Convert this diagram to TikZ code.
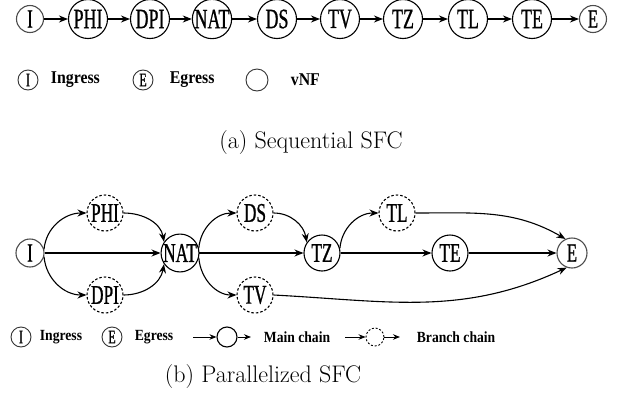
\documentclass[tikz,border=0pt]{standalone}
\usepackage{fontspec}
\newfontfamily\nodefont[FakeStretch=0.64,FakeBold=0.8]{Liberation Serif}
\newfontfamily\legendfont[FakeStretch=0.88]{Liberation Serif}
\usetikzlibrary{arrows.meta}

\tikzset{
	every picture/.style={line width=1.1pt},
	vnf/.style={draw, circle, inner sep=0pt, minimum size=39pt, font=\nodefont\fontsize{28}{28}\selectfont},
	vnfs/.style={vnf, minimum size=36pt, font=\nodefont\fontsize{27}{27}\selectfont},
	branch/.style={vnfs, dash pattern=on 2.5pt off 2pt},
	port/.style={draw=black!70, circle, inner sep=0pt, minimum size=27pt, font=\nodefont\fontsize{26}{26}\selectfont},
	keyport/.style={draw=black!80, circle, line width=0.9pt, inner sep=0pt, minimum size=20pt, font=\nodefont\fontsize{19}{19}\selectfont},
	keytext/.style={anchor=west, font=\legendfont\bfseries\fontsize{18}{18}\selectfont},
	keytexts/.style={anchor=west, font=\legendfont\bfseries\fontsize{15.5}{15.5}\selectfont},
	caption/.style={font=\fontsize{24}{24}\selectfont},
	link/.style={-{Stealth[length=9pt,width=7pt]}},
	keylink/.style={line width=0.9pt, -{Stealth[length=7pt,width=5.5pt]}}
}

\begin{document}
\begin{tikzpicture}[x=1pt,y=1pt,yscale=-1,xscale=1]
	\useasboundingbox (0,0) rectangle (625,397);

	%Sequential chain
	\node[port] (sI) at (30,19) {I};
	\node[vnf] (sPHI) at (88,19) {PHI};
	\node[vnf] (sDPI) at (150,19) {DPI};
	\node[vnf] (sNAT) at (212,19) {NAT};
	\node[vnf] (sDS) at (277,19) {DS};
	\node[vnf] (sTV) at (340,19) {TV};
	\node[vnf] (sTZ) at (403,19) {TZ};
	\node[vnf] (sTL) at (468,19) {TL};
	\node[vnf] (sTE) at (532,19) {TE};
	\node[port] (sE) at (593,19) {E};
	\foreach \a/\b in {sI/sPHI,sPHI/sDPI,sDPI/sNAT,sNAT/sDS,sDS/sTV,sTV/sTZ,sTZ/sTL,sTL/sTE,sTE/sE}
		\draw[link] (\a) -- (\b);

	%Legend (a)
	\node[keyport] (kaI) at (28,80) {I};
	\node[keytext] (kaIt) at (47,80) {Ingress};
	\node[keyport] (kaE) at (143,80) {E};
	\node[keytext] (kaEt) at (166,80) {Egress};
	\node[keyport, minimum size=22pt] (kaV) at (257,80) {};
	\node[keytext] (kaVt) at (287,80) {vNF};

	% Text Node
	\node[caption] (capa) at (311,143) {(a) Sequential SFC};

	%Parallelized chain (angles flipped because of yscale=-1)
	\node[port, minimum size=28pt] (pI) at (30,253) {I};
	\node[branch] (pPHI) at (105,213) {PHI};
	\node[branch] (pDPI) at (105,295) {DPI};
	\node[vnfs, minimum size=37pt] (pNAT) at (180,253) {NAT};
	\node[branch] (pDS) at (255,213) {DS};
	\node[branch] (pTV) at (255,295) {TV};
	\node[vnfs] (pTZ) at (322,253) {TZ};
	\node[branch] (pTL) at (397,213) {TL};
	\node[vnfs] (pTE) at (450,253) {TE};
	\node[port, minimum size=30pt] (pE) at (572,253) {E};

	\draw[link] (pI.15) to[out=-85,in=180] (pPHI.west);
	\draw[link] (pI.-15) to[out=85,in=180] (pDPI.west);
	\draw[link] (pI) -- (pNAT);
	\draw[link] (pPHI.east) to[out=0,in=-100] (pNAT.145);
	\draw[link] (pDPI.east) to[out=0,in=100] (pNAT.-145);
	\draw[link] (pNAT.15) to[out=-85,in=180] (pDS.west);
	\draw[link] (pNAT.-15) to[out=85,in=180] (pTV.west);
	\draw[link] (pNAT) -- (pTZ);
	\draw[link] (pDS.east) to[out=0,in=-100] (pTZ.145);
	\draw[link] (pTZ.15) to[out=-85,in=180] (pTL.west);
	\draw[link] (pTZ) -- (pTE);
	\draw[link] (pTE) -- (pE);
	\draw[link] (pTL.east) to[out=0,in=-150] (pE.115);
	\draw[link] (pTV.east) to[out=3,in=155] (pE.-110);

	%Legend (b)
	\node[keyport] (kbI) at (21,337) {I};
	\node[keytexts] (kbIt) at (36,337) {Ingress};
	\node[keyport] (kbE) at (112,337) {E};
	\node[keytexts] (kbEt) at (131,337) {Egress};
	\coordinate (kbM1) at (193,337);
	\node[draw, circle, line width=1.1pt, minimum size=20pt, inner sep=0pt] (kbM) at (227,337) {};
	\coordinate (kbM2) at (251,337);
	\draw[keylink] (kbM1) -- (kbM);
	\draw[keylink] (kbM) -- (kbM2);
	\node[keytexts] (kbMt) at (260,337) {Main chain};
	\coordinate (kbB1) at (345,337);
	\node[draw, circle, line width=0.9pt, dash pattern=on 2pt off 1.8pt, minimum size=18pt, inner sep=0pt] (kbB) at (375,337) {};
	\coordinate (kbB2) at (400,337);
	\draw[keylink] (kbB1) -- (kbB);
	\draw[keylink] (kbB) -- (kbB2);
	\node[keytexts] (kbBt) at (413,337) {Branch chain};

	% Text Node
	\node[caption] (capb) at (263,377) {(b) Parallelized SFC};

\end{tikzpicture}
\end{document}
